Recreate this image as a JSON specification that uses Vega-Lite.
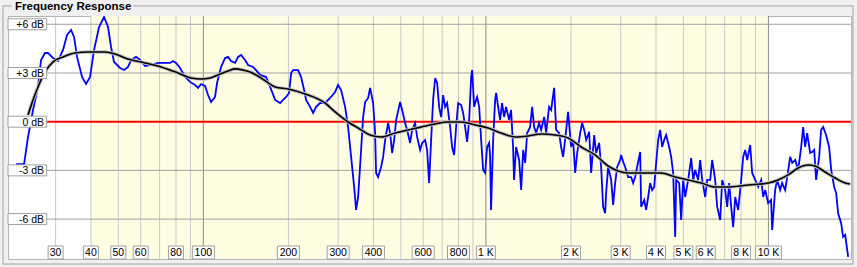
{
  "$schema": "https://vega.github.io/schema/vega-lite/v6.json",
  "width": 843,
  "height": 243,
  "autosize": {"type": "none"},
  "padding": {"left": 8, "top": 16, "right": 6, "bottom": 8},
  "background": "#f0f0f0",
  "config": {
    "view": {"stroke": "#b4b4b4", "fill": "white"},
    "axis": {"disable": true},
    "font": "Liberation Sans"
  },
  "datasets": {
    "response": [
      {"f":21.73,"db":-2.61},{"f":23.2,"db":-2.61},{"f":23.96,"db":-0.94},{"f":24.95,"db":0.72},{"f":25.99,"db":2.14},{"f":26.64,"db":3.8},{"f":27.52,"db":4.23},{"f":28.2,"db":4.23},{"f":29.38,"db":3.92},{"f":30.6,"db":3.74},{"f":31.87,"db":4.42},{"f":32.93,"db":5.34},{"f":34.02,"db":5.65},{"f":34.86,"db":5.22},{"f":35.72,"db":3.99},{"f":37.21,"db":2.75},{"f":38.44,"db":2.32},{"f":39.72,"db":2.75},{"f":41.04,"db":4.42},{"f":42.74,"db":5.83},{"f":44.52,"db":6.45},{"f":45.99,"db":5.83},{"f":47.13,"db":4.6},{"f":48.3,"db":3.68},{"f":50.72,"db":3.31},{"f":52.4,"db":3.18},{"f":54.14,"db":3.37},{"f":55.48,"db":3.8},{"f":57.78,"db":3.99},{"f":59.7,"db":3.8},{"f":62.18,"db":3.43},{"f":64.77,"db":3.49},{"f":69.13,"db":3.62},{"f":73.19,"db":3.62},{"f":76.24,"db":3.62},{"f":78.13,"db":3.74},{"f":80.06,"db":3.62},{"f":82.71,"db":3.31},{"f":86.15,"db":2.75},{"f":89.73,"db":2.45},{"f":93.46,"db":2.26},{"f":95.78,"db":2.08},{"f":98.15,"db":2.32},{"f":101.4,"db":2.2},{"f":103.9,"db":1.64},{"f":106.5,"db":1.21},{"f":110.0,"db":1.52},{"f":111.8,"db":2.38},{"f":115.5,"db":3.37},{"f":119.4,"db":3.92},{"f":122.3,"db":3.99},{"f":125.3,"db":3.74},{"f":129.5,"db":3.62},{"f":132.7,"db":3.99},{"f":136.0,"db":4.11},{"f":140.5,"db":3.8},{"f":144.0,"db":3.49},{"f":149.9,"db":3.37},{"f":153.6,"db":3.18},{"f":158.8,"db":2.88},{"f":166.8,"db":2.75},{"f":172.3,"db":2.14},{"f":179.5,"db":1.34},{"f":186.9,"db":1.15},{"f":191.5,"db":1.34},{"f":196.3,"db":1.52},{"f":201.1,"db":1.77},{"f":204.5,"db":3.0},{"f":207.8,"db":3.18},{"f":216.5,"db":3.18},{"f":221.8,"db":2.75},{"f":227.3,"db":1.95},{"f":231.0,"db":1.34},{"f":238.7,"db":0.91},{"f":244.6,"db":0.54},{"f":250.7,"db":0.91},{"f":258.9,"db":1.15},{"f":269.7,"db":1.15},{"f":280.9,"db":1.46},{"f":292.6,"db":1.83},{"f":299.8,"db":2.26},{"f":307.3,"db":1.95},{"f":317.5,"db":0.91},{"f":325.3,"db":-0.33},{"f":333.4,"db":-2.17},{"f":341.7,"db":-4.02},{"f":347.3,"db":-5.44},{"f":353.0,"db":-4.64},{"f":361.7,"db":-1.74},{"f":367.7,"db":0.29},{"f":373.7,"db":1.21},{"f":383.0,"db":1.46},{"f":389.2,"db":2.08},{"f":398.9,"db":1.15},{"f":405.4,"db":-0.7},{"f":408.7,"db":-3.16},{"f":415.4,"db":-3.41},{"f":425.8,"db":-2.79},{"f":432.8,"db":-2.17},{"f":439.9,"db":-1.13},{"f":450.8,"db":-0.08},{"f":458.2,"db":-0.7},{"f":465.7,"db":-1.93},{"f":473.4,"db":-1.13},{"f":481.2,"db":0.1},{"f":497.1,"db":1.21},{"f":505.3,"db":0.72},{"f":517.8,"db":-0.08},{"f":526.3,"db":-0.51},{"f":539.3,"db":-1.31},{"f":548.1,"db":-0.51},{"f":561.7,"db":-0.08},{"f":570.9,"db":-0.94},{"f":585.1,"db":-1.74},{"f":594.7,"db":-1.31},{"f":609.5,"db":-1.13},{"f":619.4,"db":-1.74},{"f":629.6,"db":-3.78},{"f":640.0,"db":-1.13},{"f":650.5,"db":1.34},{"f":661.2,"db":2.69},{"f":672.1,"db":2.38},{"f":683.1,"db":0.91},{"f":694.3,"db":0.29},{"f":705.8,"db":1.64},{"f":717.4,"db":0.91},{"f":729.1,"db":1.15},{"f":747.2,"db":-0.33},{"f":759.5,"db":-1.56},{"f":772.0,"db":-2.05},{"f":784.6,"db":-0.33},{"f":797.6,"db":1.15},{"f":817.3,"db":1.03},{"f":830.8,"db":0.54},{"f":844.4,"db":-0.33},{"f":858.3,"db":-1.25},{"f":872.4,"db":0.1},{"f":886.8,"db":2.75},{"f":894.0,"db":3.18},{"f":908.8,"db":0.91},{"f":916.2,"db":1.15},{"f":931.2,"db":1.52},{"f":946.6,"db":0.91},{"f":962.1,"db":-1.13},{"f":978.0,"db":-2.98},{"f":994.0,"db":-3.16},{"f":1010,"db":-1.56},{"f":1027,"db":-1.31},{"f":1035,"db":-2.17},{"f":1043,"db":-5.44},{"f":1061,"db":-1.13},{"f":1078,"db":1.34},{"f":1087,"db":1.77},{"f":1105,"db":0.91},{"f":1123,"db":0.1},{"f":1141,"db":1.15},{"f":1160,"db":0.29},{"f":1179,"db":0.91},{"f":1208,"db":0.1},{"f":1228,"db":0.72},{"f":1248,"db":-1.56},{"f":1258,"db":-3.59},{"f":1279,"db":-1.56},{"f":1311,"db":-2.36},{"f":1333,"db":-4.21},{"f":1355,"db":-1.74},{"f":1377,"db":-2.54},{"f":1400,"db":-0.7},{"f":1434,"db":-0.33},{"f":1458,"db":0.91},{"f":1482,"db":-0.33},{"f":1506,"db":-0.7},{"f":1543,"db":-0.08},{"f":1569,"db":-0.51},{"f":1608,"db":0.29},{"f":1634,"db":-0.7},{"f":1674,"db":0.91},{"f":1702,"db":0.72},{"f":1744,"db":2.08},{"f":1773,"db":-0.51},{"f":1816,"db":-0.7},{"f":1846,"db":-1.56},{"f":1876,"db":-2.17},{"f":1907,"db":-1.13},{"f":1954,"db":0.6},{"f":2003,"db":-1.56},{"f":2036,"db":-1.13},{"f":2070,"db":-3.16},{"f":2104,"db":-1.93},{"f":2156,"db":-0.7},{"f":2191,"db":-0.08},{"f":2228,"db":-0.51},{"f":2264,"db":-1.13},{"f":2320,"db":-0.63},{"f":2358,"db":-3.16},{"f":2417,"db":-0.82},{"f":2456,"db":-1.93},{"f":2517,"db":-1.31},{"f":2558,"db":-2.79},{"f":2600,"db":-5.25},{"f":2643,"db":-5.64},{"f":2664,"db":-4.4},{"f":2708,"db":-2.79},{"f":2776,"db":-3.59},{"f":2821,"db":-5.13},{"f":2868,"db":-3.78},{"f":2915,"db":-2.79},{"f":2987,"db":-2.36},{"f":3011,"db":-2.05},{"f":3061,"db":-2.48},{"f":3111,"db":-2.79},{"f":3188,"db":-3.41},{"f":3267,"db":-3.41},{"f":3320,"db":-3.78},{"f":3375,"db":-3.41},{"f":3430,"db":-2.79},{"f":3516,"db":-1.87},{"f":3545,"db":-5.25},{"f":3633,"db":-4.82},{"f":3692,"db":-5.44},{"f":3753,"db":-4.64},{"f":3814,"db":-3.78},{"f":3877,"db":-4.21},{"f":3941,"db":-4.02},{"f":4005,"db":-2.54},{"f":4071,"db":-1.13},{"f":4138,"db":-0.51},{"f":4206,"db":-1.56},{"f":4275,"db":-1.13},{"f":4345,"db":-0.82},{"f":4453,"db":-1.56},{"f":4527,"db":-2.17},{"f":4601,"db":-3.16},{"f":4677,"db":-7.1},{"f":4715,"db":-3.59},{"f":4832,"db":-3.78},{"f":4911,"db":-6.06},{"f":4992,"db":-3.59},{"f":5074,"db":-4.64},{"f":5199,"db":-3.59},{"f":5328,"db":-2.24},{"f":5416,"db":-3.59},{"f":5505,"db":-2.98},{"f":5641,"db":-3.59},{"f":5734,"db":-2.36},{"f":5828,"db":-3.59},{"f":5973,"db":-4.64},{"f":6071,"db":-3.59},{"f":6221,"db":-3.59},{"f":6323,"db":-2.36},{"f":6480,"db":-3.59},{"f":6586,"db":-5.25},{"f":6749,"db":-6.06},{"f":6860,"db":-3.59},{"f":7030,"db":-4.21},{"f":7145,"db":-5.25},{"f":7263,"db":-3.78},{"f":7382,"db":-5.25},{"f":7503,"db":-6.5},{"f":7627,"db":-4.64},{"f":7815,"db":-5.44},{"f":8009,"db":-3.59},{"f":8141,"db":-2.17},{"f":8274,"db":-1.74},{"f":8410,"db":-2.36},{"f":8619,"db":-1.44},{"f":8760,"db":-3.16},{"f":8978,"db":-3.59},{"f":9200,"db":-4.02},{"f":9428,"db":-3.59},{"f":9583,"db":-4.64},{"f":9740,"db":-4.21},{"f":9981,"db":-5.02},{"f":10220,"db":-4.82},{"f":10310,"db":-6.67},{"f":10560,"db":-4.21},{"f":10740,"db":-3.59},{"f":11000,"db":-4.21},{"f":11180,"db":-3.78},{"f":11460,"db":-4.21},{"f":11650,"db":-3.41},{"f":11940,"db":-2.17},{"f":12140,"db":-2.54},{"f":12440,"db":-2.36},{"f":12740,"db":-2.98},{"f":13060,"db":-1.56},{"f":13270,"db":-0.33},{"f":13490,"db":-1.56},{"f":13710,"db":-0.7},{"f":14050,"db":-1.93},{"f":14280,"db":-1.87},{"f":14520,"db":-1.74},{"f":14750,"db":-3.59},{"f":15120,"db":-2.17},{"f":15360,"db":-0.51},{"f":15620,"db":-0.33},{"f":16000,"db":-0.82},{"f":16400,"db":-1.56},{"f":16680,"db":-2.98},{"f":17090,"db":-4.02},{"f":17370,"db":-4.4},{"f":17650,"db":-5.64},{"f":18090,"db":-6.25},{"f":18380,"db":-7.1},{"f":18690,"db":-6.98},{"f":19150,"db":-8.33}
    ],
    "smoothed": [
      {"f":23.96,"db":0.41},{"f":24.95,"db":1.34},{"f":25.99,"db":2.14},{"f":27.52,"db":3.06},{"f":29.38,"db":3.68},{"f":31.87,"db":3.99},{"f":35.14,"db":4.23},{"f":39.08,"db":4.29},{"f":44.88,"db":4.29},{"f":48.69,"db":4.17},{"f":54.14,"db":3.86},{"f":62.18,"db":3.62},{"f":70.85,"db":3.37},{"f":81.38,"db":3.0},{"f":90.47,"db":2.69},{"f":98.15,"db":2.63},{"f":105.6,"db":2.69},{"f":112.7,"db":2.88},{"f":122.3,"db":3.12},{"f":129.5,"db":3.25},{"f":138.2,"db":3.18},{"f":146.3,"db":3.06},{"f":160.1,"db":2.69},{"f":179.5,"db":2.14},{"f":199.5,"db":2.01},{"f":229.2,"db":1.71},{"f":269.7,"db":1.15},{"f":292.6,"db":0.6},{"f":325.3,"db":-0.02},{"f":353.0,"db":-0.39},{"f":389.2,"db":-0.82},{"f":425.8,"db":-0.94},{"f":477.3,"db":-0.7},{"f":530.6,"db":-0.51},{"f":589.9,"db":-0.33},{"f":661.2,"db":-0.14},{"f":735.1,"db":-0.02},{"f":817.3,"db":-0.02},{"f":916.2,"db":-0.2},{"f":1019,"db":-0.39},{"f":1132,"db":-0.7},{"f":1269,"db":-0.94},{"f":1411,"db":-0.88},{"f":1569,"db":-0.76},{"f":1758,"db":-0.82},{"f":1954,"db":-1.0},{"f":2174,"db":-1.56},{"f":2436,"db":-2.05},{"f":2708,"db":-2.73},{"f":2939,"db":-3.04},{"f":3188,"db":-3.16},{"f":3545,"db":-3.16},{"f":4172,"db":-3.16},{"f":4677,"db":-3.41},{"f":5199,"db":-3.59},{"f":5781,"db":-3.78},{"f":6480,"db":-4.02},{"f":7322,"db":-4.02},{"f":8479,"db":-3.9},{"f":9981,"db":-3.78},{"f":10820,"db":-3.59},{"f":11740,"db":-3.28},{"f":12740,"db":-2.85},{"f":13820,"db":-2.67},{"f":14630,"db":-2.73},{"f":15870,"db":-3.1},{"f":17230,"db":-3.47},{"f":18690,"db":-3.78},{"f":19470,"db":-3.84}
    ],
    "gridx": [
      {"f":30},{"f":40},{"f":50},{"f":60},{"f":70},{"f":80},{"f":90},{"f":100},{"f":200},{"f":300},{"f":400},{"f":500},{"f":600},{"f":700},{"f":800},{"f":900},{"f":1000},{"f":2000},{"f":3000},{"f":4000},{"f":5000},{"f":6000},{"f":7000},{"f":8000},{"f":9000},{"f":10000}
    ],
    "gridy": [{"db":-6},{"db":-3},{"db":3},{"db":6}],
    "xlabels": [
      {"f":30,"label":"30"},{"f":40,"label":"40"},{"f":50,"label":"50"},{"f":60,"label":"60"},{"f":80,"label":"80"},{"f":100,"label":"100"},{"f":200,"label":"200"},{"f":300,"label":"300"},{"f":400,"label":"400"},{"f":600,"label":"600"},{"f":800,"label":"800"},{"f":1000,"label":"1 K"},{"f":2000,"label":"2 K"},{"f":3000,"label":"3 K"},{"f":4000,"label":"4 K"},{"f":5000,"label":"5 K"},{"f":6000,"label":"6 K"},{"f":8000,"label":"8 K"},{"f":10000,"label":"10 K"}
    ],
    "ylabels": [
      {"db":6,"label":"+6 dB"},{"db":3,"label":"+3 dB"},{"db":0,"label":"0 dB"},{"db":-3,"label":"-3 dB"},{"db":-6,"label":"-6 dB"}
    ]
  },
  "encoding": {
    "x": {"type": "quantitative", "scale": {"type": "log", "domain": [20.35, 19600], "nice": false}},
    "y": {"type": "quantitative", "scale": {"domain": [-8.46, 6.51], "nice": false, "zero": false}}
  },
  "layer": [
    {
      "data": {"values": [{}]},
      "mark": {"type": "rect", "fill": "#fffde1"},
      "encoding": {"x": {"datum": 40}, "x2": {"datum": 10000}, "y": {"datum": 6.51}, "y2": {"datum": -8.46}}
    },
    {
      "data": {"name": "gridx"},
      "mark": {"type": "rule", "strokeWidth": 1},
      "encoding": {
        "x": {"field": "f"},
        "color": {"condition": {"test": "datum.f==100||datum.f==1000||datum.f==10000", "value": "#8c8c8c"}, "value": "#c8c8c8"}
      }
    },
    {
      "data": {"name": "gridy"},
      "mark": {"type": "rule", "strokeWidth": 1, "color": "#a0a0a0"},
      "encoding": {"y": {"field": "db"}}
    },
    {
      "data": {"values": [{}]},
      "mark": {"type": "rule", "strokeWidth": 2, "color": "#ff0000"},
      "encoding": {"y": {"datum": 0}}
    },
    {
      "data": {"name": "response"},
      "mark": {"type": "line", "color": "#0000ff", "strokeWidth": 1.8, "clip": true},
      "encoding": {"x": {"field": "f"}, "y": {"field": "db"}}
    },
    {
      "data": {"name": "smoothed"},
      "mark": {"type": "line", "color": "#bdbdbd", "strokeWidth": 3.6, "interpolate": "monotone"},
      "encoding": {"x": {"field": "f"}, "y": {"field": "db"}}
    },
    {
      "data": {"name": "smoothed"},
      "mark": {"type": "line", "color": "#000000", "strokeWidth": 1.6, "interpolate": "monotone"},
      "encoding": {"x": {"field": "f"}, "y": {"field": "db"}}
    },
    {
      "data": {"name": "xlabels"},
      "mark": {
        "type": "rect", "fill": "white", "stroke": "#a0a0a0", "strokeWidth": 1,
        "xOffset": {"expr": "-(length(datum.label)==2 ? 7.5 : (indexof(datum.label,'K')<0 ? 11 : (length(datum.label)==3 ? 9.5 : 13)))"},
        "x2Offset": {"expr": "(length(datum.label)==2 ? 7.5 : (indexof(datum.label,'K')<0 ? 11 : (length(datum.label)==3 ? 9.5 : 13)))"}
      },
      "encoding": {"x": {"field": "f"}, "x2": {"field": "f"}, "y": {"datum": -7.66}, "y2": {"datum": -8.46}}
    },
    {
      "data": {"name": "xlabels"},
      "mark": {"type": "text", "font": "Liberation Sans", "fontSize": 10.5, "color": "#000000", "align": "center", "baseline": "alphabetic", "dy": -2.6},
      "encoding": {"x": {"field": "f"}, "y": {"datum": -8.46}, "text": {"field": "label"}}
    },
    {
      "data": {"name": "ylabels"},
      "mark": {"type": "rect", "fill": "white", "stroke": "#a0a0a0", "strokeWidth": 1, "yOffset": -5.5, "y2Offset": 5.5},
      "encoding": {"x": {"datum": 20.35}, "x2": {"datum": 27.9}, "y": {"field": "db"}, "y2": {"field": "db"}}
    },
    {
      "data": {"name": "ylabels"},
      "mark": {"type": "text", "font": "Liberation Sans", "fontSize": 10.5, "color": "#000000", "align": "right", "baseline": "alphabetic", "dy": 4},
      "encoding": {"x": {"datum": 27.3}, "y": {"field": "db"}, "text": {"field": "label"}}
    },
    {
      "data": {"values": [{}]},
      "mark": {"type": "rect", "fill": null, "fillOpacity": 0, "stroke": "#a0a0a0", "strokeWidth": 1},
      "encoding": {"x": {"datum": 19.54}, "x2": {"datum": 19920}, "y": {"datum": 7.13}, "y2": {"datum": -8.77}}
    },
    {
      "data": {"values": [{}]},
      "mark": {"type": "rect", "fill": "#f0f0f0"},
      "encoding": {"x": {"datum": 21.02}, "x2": {"datum": 56.38}, "y": {"datum": 7.6}, "y2": {"datum": 6.66}}
    },
    {
      "data": {"values": [{"label": "Frequency Response"}]},
      "mark": {"type": "text", "font": "Liberation Sans", "fontSize": 11.5, "fontWeight": "bold", "color": "#000000", "align": "left", "baseline": "alphabetic"},
      "encoding": {"x": {"datum": 21.55}, "y": {"datum": 6.88}, "text": {"field": "label"}}
    }
  ]
}
